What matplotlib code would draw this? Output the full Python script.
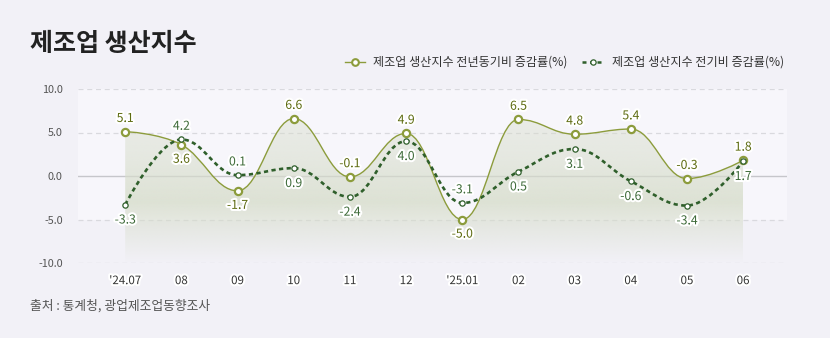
import matplotlib
matplotlib.use("Agg")
import matplotlib.pyplot as plt
import numpy as np
from matplotlib.path import Path
from matplotlib.patches import PathPatch
from matplotlib.lines import Line2D
import matplotlib.patheffects as pe

plt.rcParams['font.family'] = ['Noto Sans CJK KR', 'DejaVu Sans']

# --- data -----------------------------------------------------------------
months = ["'24.07", "08", "09", "10", "11", "12", "'25.01", "02", "03", "04", "05", "06"]
yoy = [5.1, 3.6, -1.7, 6.6, -0.1, 4.9, -5.0, 6.5, 4.8, 5.4, -0.3, 1.8]
mom = [-3.3, 4.2, 0.1, 0.9, -2.4, 4.0, -3.1, 0.5, 3.1, -0.6, -3.4, 1.7]
# label side: 1 = above, -1 = below
yoy_side = [1, -1, -1, 1, 1, 1, -1, 1, 1, 1, 1, 1]
mom_side = [-1, 1, 1, -1, -1, -1, 1, -1, -1, -1, -1, -1]
y_ticks = [-10, -5, 0, 5, 10]

BG = "#f2f1f7"
BAND = "#f7f6fb"
YOY_C = "#8c9c3c"
YOY_TXT = "#5d6b10"
MOM_C = "#2f5f2b"
MOM_TXT = "#3d6a38"


def spline_path(xs, ys, close_to=None):
    """Highcharts-style spline through the points, as a bezier Path."""
    sm = 1.5
    den = sm + 1
    n = len(xs)
    left, right = [None] * n, [None] * n
    for i in range(n):
        x, y = xs[i], ys[i]
        if i == 0 or i == n - 1:
            left[i] = right[i] = (x, y)
            continue
        lx, ly = xs[i - 1], ys[i - 1]
        nx, ny = xs[i + 1], ys[i + 1]
        lcx, lcy = (sm * x + lx) / den, (sm * y + ly) / den
        rcx, rcy = (sm * x + nx) / den, (sm * y + ny) / den
        if rcx != lcx:
            corr = ((rcy - lcy) * (rcx - x)) / (rcx - lcx) + y - rcy
            lcy += corr
            rcy += corr
        if lcy > ly and lcy > y:
            lcy = max(ly, y); rcy = 2 * y - lcy
        elif lcy < ly and lcy < y:
            lcy = min(ly, y); rcy = 2 * y - lcy
        if rcy > ny and rcy > y:
            rcy = max(ny, y); lcy = 2 * y - rcy
        elif rcy < ny and rcy < y:
            rcy = min(ny, y); lcy = 2 * y - rcy
        left[i], right[i] = (lcx, lcy), (rcx, rcy)
    verts = [(xs[0], ys[0])]
    codes = [Path.MOVETO]
    for i in range(1, n):
        verts += [right[i - 1], left[i], (xs[i], ys[i])]
        codes += [Path.CURVE4] * 3
    if close_to is not None:
        verts += [(xs[-1], close_to), (xs[0], close_to), (xs[0], ys[0])]
        codes += [Path.LINETO, Path.LINETO, Path.CLOSEPOLY]
    return Path(verts, codes)


x = np.arange(len(months))

fig = plt.figure(figsize=(8.3, 3.38), dpi=100, facecolor=BG)
ax = fig.add_axes([78 / 830, 1 - 263 / 338, 709 / 830, 174 / 338])
ax.set_facecolor(BG)
ax.set_xlim(-0.84, 11.78)
ax.set_ylim(-10, 10)
ax.axhspan(-5, 10, color=BAND, zorder=0, lw=0)

for t in y_ticks:
    if t == 0:
        ax.axhline(t, color="#c6c6cb", lw=1, zorder=1)
    else:
        ax.axhline(t, color="#d9d9de", lw=0.9, ls=(0, (4, 3)), zorder=1)

# gradient area under YoY
area = PathPatch(spline_path(x, yoy, close_to=-10), transform=ax.transData,
                 facecolor="none", edgecolor="none")
ax.add_patch(area)
top = max(yoy)
ys_g = np.linspace(top, -10, 256)
alpha = np.interp(ys_g, [-10, -6, -3, 2, top], [0.0, 0.45, 0.8, 0.55, 0.4])
grad = np.zeros((256, 2, 4))
grad[..., 0] = 215 / 255
grad[..., 1] = 221 / 255
grad[..., 2] = 203 / 255
grad[..., 3] = alpha[:, None]
im = ax.imshow(grad, extent=[x[0], x[-1], -10, top], aspect="auto",
               origin="upper", interpolation="bilinear", zorder=2)
im.set_clip_path(area)

# lines
ax.add_patch(PathPatch(spline_path(x, yoy), facecolor="none", edgecolor=YOY_C,
                       lw=1.0, zorder=3))
ax.add_patch(PathPatch(spline_path(x, mom), facecolor="none", edgecolor=MOM_C,
                       lw=1.9, ls=(0, (1.6, 1.3)), zorder=4))
ax.plot(x, yoy, ls="none", marker="o", ms=5.2, mfc="white", mec=YOY_C, mew=1.6,
        zorder=5)
ax.plot(x, mom, ls="none", marker="o", ms=3.8, mfc="white", mec=MOM_C, mew=0.9,
        zorder=6)

stroke = [pe.withStroke(linewidth=3, foreground="white")]
for xi, v, s in zip(x, yoy, yoy_side):
    ax.annotate(f"{v:.1f}", (xi, v), xytext=(0, 9.5 if s > 0 else -10.5),
                textcoords="offset points", ha="center", va="center",
                fontsize=8.8, fontweight="medium", color=YOY_TXT,
                path_effects=stroke, zorder=8)
for xi, v, s in zip(x, mom, mom_side):
    ax.annotate(f"{v:.1f}", (xi, v), xytext=(0, 9.5 if s > 0 else -11),
                textcoords="offset points", ha="center", va="center",
                fontsize=8.8, fontweight="medium", color=MOM_TXT,
                path_effects=stroke, zorder=8)

ax.set_yticks(y_ticks)
ax.set_yticklabels([f"{t:.1f}" for t in y_ticks], fontsize=7.8, color="#555555")
ax.set_xticks(x)
ax.set_xticklabels(months, fontsize=8.3, fontweight="medium", color="#333333")
for lab in ax.get_xticklabels():
    lab.set_path_effects(stroke)
ax.tick_params(axis="y", length=0, pad=11)
ax.tick_params(axis="x", length=0, pad=8)
for sp in ax.spines.values():
    sp.set_visible(False)

# title, legend, source
fig.text(30 / 830, 1 - 44 / 338, "제조업 생산지수", fontsize=18,
         fontweight="bold", color="#222222", va="center", ha="left")
ly = 1 - 62 / 338
fig.add_artist(Line2D([345 / 830, 365 / 830], [ly, ly], color=YOY_C, lw=1,
                      transform=fig.transFigure))
fig.add_artist(Line2D([355 / 830], [ly], ls="none", marker="o", ms=4.8,
                      mfc="white", mec=YOY_C, mew=1.5, transform=fig.transFigure))
fig.text(373 / 830, ly, "제조업 생산지수 전년동기비 증감률(%)", fontsize=8.7,
         color="#333333", va="center", ha="left")
fig.add_artist(Line2D([582 / 830, 603 / 830], [ly, ly], color=MOM_C, lw=1.8,
                      ls=(0, (1.6, 1.4)), transform=fig.transFigure))
fig.add_artist(Line2D([592.5 / 830], [ly], ls="none", marker="o", ms=3.8,
                      mfc="white", mec=MOM_C, mew=0.9, transform=fig.transFigure))
fig.text(612 / 830, ly, "제조업 생산지수 전기비 증감률(%)", fontsize=8.7,
         color="#333333", va="center", ha="left")
fig.text(30 / 830, 1 - 306 / 338, "출처 : 통계청, 광업제조업동향조사", fontsize=9.2,
         color="#555555", va="center", ha="left")

fig.savefig("out.png", dpi=100, facecolor=BG)
